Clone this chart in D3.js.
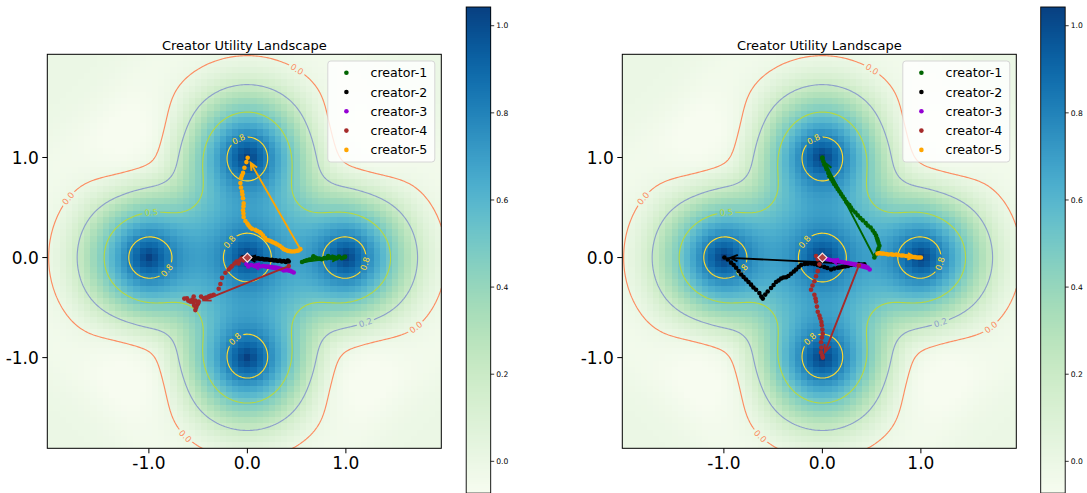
<!DOCTYPE html>
<html><head><meta charset="utf-8">
<script src="https://cdn.jsdelivr.net/npm/d3@7"></script>
<style>
body{margin:0;background:#fff}
svg{display:block}
text{font-family:"DejaVu Sans",sans-serif;fill:#000}
</style>
</head><body>
<svg id="chart" width="1087" height="493"></svg>
<script>
// ---------------- data ----------------
const titleText = "Creator Utility Landscape";
const peakX = [0, 1, -1, 0, 0];
const peakY = [0, 0, 0, 1, -1];
const contourLevels = [0.0, 0.2, 0.5, 0.8];
const contourColors = ["#fc8d62", "#8da0cb", "#b5d844", "#ffd92f"];
const axisTicks = [-1, 0, 1];
const axisTickLabels = ["-1.0", "0.0", "1.0"];
const colorbarTicks = [0.0, 0.2, 0.4, 0.6, 0.8, 1.0];
const colorbarTickLabels = ["0.0", "0.2", "0.4", "0.6", "0.8", "1.0"];
const colorDomain = [-0.073, 1.043];
const creatorNames = ["creator-1", "creator-2", "creator-3", "creator-4", "creator-5"];
const creatorColors = ["#006400", "#000000", "#9400d3", "#a52a2a", "#ffa500"];
const userPoint = [0, 0];
// contour label spots [level, x, y]
const labelSpots = [[0.0,0.52,1.91],[0.0,-1.85,0.61],[0.5,-0.98,0.46],[0.8,-0.1,1.19],[0.8,-0.19,0.16],
  [0.8,-0.85,-0.1],[0.8,1.21,-0.07],[0.8,-0.1,-0.84],[0.2,1.2,-0.64],[0.0,1.74,-0.73],[0.0,-0.65,-1.8]];

// left run trajectories
const leftCreator1 = [[0.555,-0.044],[0.58,-0.035],[0.603,-0.027],[0.63,-0.02],[0.654,-0.017],[0.67,0.012],[0.69,0.0],[0.704,-0.007],[0.73,-0.01],[0.755,-0.017],[0.78,-0.005],[0.806,-0.007],[0.82,0.014],[0.84,0.0],[0.857,0.0],[0.88,-0.005],[0.907,-0.007],[0.93,0.01],[0.958,-0.007],[0.975,0.0],[0.992,0.007]];
const leftCreator2 = [[0.42,-0.04],[0.41,-0.03],[0.39,-0.045],[0.37,-0.035],[0.35,-0.04],[0.33,-0.03],[0.31,-0.035],[0.29,-0.028],[0.27,-0.03],[0.25,-0.022],[0.23,-0.025],[0.21,-0.02],[0.19,-0.018],[0.17,-0.02],[0.15,-0.012],[0.13,-0.015],[0.11,-0.008],[0.09,-0.01],[0.07,-0.005],[0.05,-0.006],[0.03,0.0],[0.01,0.004],[-0.02,0.006],[-0.05,0.0]];
const leftCreator3 = [[0.47,-0.15],[0.45,-0.14],[0.43,-0.13],[0.41,-0.12],[0.39,-0.125],[0.37,-0.13],[0.35,-0.115],[0.33,-0.11],[0.31,-0.105],[0.29,-0.1],[0.27,-0.1],[0.25,-0.095],[0.22,-0.09],[0.19,-0.088],[0.16,-0.085],[0.13,-0.09],[0.1,-0.08],[0.07,-0.085],[0.04,-0.075],[0.01,-0.09],[-0.01,-0.065]];
const leftCreator4 = [[0.42,-0.085],[-0.03,0.0],[-0.06,-0.01],[-0.04,-0.03],[-0.08,-0.03],[-0.11,-0.04],[-0.09,-0.06],[-0.13,-0.06],[-0.156,-0.085],[-0.17,-0.1],[-0.19,-0.119],[-0.223,-0.152],[-0.257,-0.203],[-0.274,-0.264],[-0.291,-0.312],[-0.342,-0.373],[-0.37,-0.38],[-0.393,-0.39],[-0.42,-0.4],[-0.443,-0.406],[-0.47,-0.39],[-0.494,-0.44],[-0.511,-0.474],[-0.528,-0.525],[-0.545,-0.39],[-0.56,-0.42],[-0.579,-0.44],[-0.613,-0.406],[-0.64,-0.41],[-0.6,-0.43],[-0.55,-0.45],[-0.52,-0.5],[-0.54,-0.48],[-0.5,-0.46],[-0.53,-0.43],[-0.5,-0.45]];
const leftCreator5 = [[0.538,0.084],[0.52,0.07],[0.504,0.067],[0.48,0.062],[0.453,0.061],[0.43,0.064],[0.409,0.067],[0.39,0.075],[0.369,0.084],[0.35,0.1],[0.328,0.118],[0.305,0.13],[0.284,0.142],[0.26,0.152],[0.24,0.162],[0.22,0.17],[0.2,0.176],[0.18,0.195],[0.159,0.219],[0.14,0.24],[0.125,0.254],[0.1,0.265],[0.081,0.277],[0.047,0.287],[0.03,0.3],[0.013,0.321],[0.0,0.34],[-0.02,0.365],[-0.038,0.406],[-0.04,0.44],[-0.044,0.473],[-0.04,0.51],[-0.038,0.541],[-0.044,0.592],[-0.05,0.63],[-0.054,0.66],[-0.065,0.7],[-0.071,0.744],[-0.064,0.795],[-0.055,0.82],[-0.044,0.846],[-0.03,0.897],[-0.01,0.954],[0.003,0.998]];

// right run trajectories
const rightCreator1 = [[0.528,0.0],[0.545,0.03],[0.562,0.067],[0.57,0.09],[0.579,0.118],[0.57,0.145],[0.562,0.169],[0.555,0.19],[0.545,0.219],[0.53,0.245],[0.512,0.27],[0.49,0.3],[0.461,0.321],[0.44,0.345],[0.41,0.372],[0.385,0.395],[0.359,0.422],[0.335,0.45],[0.308,0.473],[0.29,0.5],[0.274,0.524],[0.255,0.54],[0.241,0.558],[0.225,0.585],[0.207,0.609],[0.19,0.635],[0.173,0.66],[0.155,0.685],[0.139,0.711],[0.12,0.735],[0.106,0.761],[0.09,0.785],[0.071,0.812],[0.06,0.845],[0.048,0.88],[0.035,0.905],[0.02,0.93],[0.01,0.96],[0.0,0.99],[0.0,1.0]];
const rightCreator2 = [[0.426,-0.068],[0.4,-0.07],[0.37,-0.065],[0.34,-0.075],[0.31,-0.07],[0.291,-0.075],[0.26,-0.085],[0.23,-0.09],[0.2,-0.095],[0.175,-0.1],[0.156,-0.102],[0.12,-0.11],[0.088,-0.119],[0.05,-0.105],[0.02,-0.095],[-0.02,-0.085],[-0.047,-0.075],[-0.08,-0.065],[-0.11,-0.06],[-0.148,-0.061],[-0.18,-0.065],[-0.216,-0.075],[-0.24,-0.095],[-0.267,-0.119],[-0.29,-0.14],[-0.318,-0.162],[-0.345,-0.185],[-0.369,-0.197],[-0.395,-0.2],[-0.419,-0.21],[-0.445,-0.23],[-0.47,-0.244],[-0.495,-0.275],[-0.521,-0.305],[-0.555,-0.339],[-0.58,-0.37],[-0.605,-0.41],[-0.62,-0.39],[-0.64,-0.355],[-0.673,-0.322],[-0.7,-0.3],[-0.724,-0.271],[-0.75,-0.245],[-0.775,-0.22],[-0.8,-0.195],[-0.825,-0.17],[-0.85,-0.135],[-0.876,-0.102],[-0.9,-0.075],[-0.927,-0.051],[-0.96,-0.02],[-0.995,0.0]];
const rightCreator3 = [[0.48,-0.12],[0.46,-0.1],[0.44,-0.09],[0.42,-0.085],[0.4,-0.08],[0.38,-0.075],[0.35,-0.07],[0.32,-0.065],[0.29,-0.06],[0.26,-0.055],[0.23,-0.05],[0.2,-0.045],[0.17,-0.04],[0.14,-0.035],[0.11,-0.03],[0.08,-0.025],[0.055,-0.017],[0.03,-0.01]];
const rightCreator4 = [[0.37,-0.08],[-0.064,0.016],[-0.047,-0.017],[-0.03,-0.068],[-0.047,-0.136],[-0.064,-0.187],[-0.081,-0.237],[-0.1,-0.28],[-0.115,-0.322],[-0.081,-0.372],[-0.07,-0.41],[-0.064,-0.44],[-0.055,-0.49],[-0.047,-0.542],[-0.03,-0.58],[-0.02,-0.609],[-0.01,-0.645],[-0.006,-0.677],[0.0,-0.72],[0.004,-0.761],[-0.005,-0.8],[-0.013,-0.846],[-0.01,-0.9],[-0.013,-0.948],[0.0,-0.98],[0.004,-1.0]];
const rightCreator5 = [[0.56,0.04],[0.58,0.045],[0.6,0.04],[0.62,0.04],[0.65,0.035],[0.67,0.03],[0.7,0.032],[0.72,0.028],[0.75,0.03],[0.77,0.025],[0.8,0.02],[0.82,0.02],[0.85,0.015],[0.87,0.012],[0.88,0.01],[0.9,0.008],[0.92,0.005],[0.94,0.004],[0.96,0.0],[0.98,0.0],[1.0,0.0]];

// landscape kernel parameters (cone-like bump with a shallow negative ring)
const K = {slope: 1.18, radius: 0.894, soft: 0.08, dipDepth: 0.04, dipAt: 1.3, dipWidth: 0.1};

// ---------------- layout ----------------
const svg = d3.select("#chart");
const AX = {y0: 54.3, size: 394};
const CB = {top: 7, w: 24.5};
const panels = [
  {ox: 47.3, cbx: 466.2, traj: [leftCreator1, leftCreator2, leftCreator3, leftCreator4, leftCreator5]},
  {ox: 622.3, cbx: 1040.7, traj: [rightCreator1, rightCreator2, rightCreator3, rightCreator4, rightCreator5]}
];
const GRID = 64, cell = 1/16;
const xDomain = [-2 - cell/2, 2 - cell/2];
const yDomain = [-2 + 3*cell/2, 2 + cell/2];

function kernel(r){
  const s = K.slope * K.soft * Math.log1p(Math.exp((K.radius - r)/K.soft));
  const d = K.dipDepth * Math.exp(-((r - K.dipAt)**2)/K.dipWidth);
  return s - d;
}
function field(x, y){
  let p = 1;
  for (let k = 0; k < peakX.length; k++) p *= 1 - kernel(Math.hypot(x - peakX[k], y - peakY[k]));
  return 1 - p;
}
const color = d3.scaleSequential(d3.interpolateGnBu).domain(colorDomain).clamp(true);

// heat cells
const gx = d3.range(GRID).map(i => -2 + i*cell);
const gy = d3.range(GRID).map(j => 2 - j*cell);
const cells = [];
gy.forEach(y => gx.forEach(x => cells.push({x, y, v: field(x, y)})));

// contour grid
const N = 240;
const cStep = (xDomain[1] - xDomain[0])/(N - 1);
const cvals = new Array(N*N);
for (let r = 0; r < N; r++) for (let c = 0; c < N; c++) cvals[r*N + c] = field(xDomain[0] + c*cStep, yDomain[1] - r*cStep);
const contours = d3.contours().size([N, N]).thresholds(contourLevels)(cvals);

const defs = svg.append("defs");

panels.forEach((P, pi) => {
  const xs = d3.scaleLinear().domain(xDomain).range([P.ox, P.ox + AX.size]);
  const ys = d3.scaleLinear().domain(yDomain).range([AX.y0 + AX.size, AX.y0]);
  const g = svg.append("g");
  const clipId = "clip" + pi;
  defs.append("clipPath").attr("id", clipId).append("rect")
    .attr("x", P.ox).attr("y", AX.y0).attr("width", AX.size).attr("height", AX.size);
  const plot = g.append("g").attr("clip-path", `url(#${clipId})`);

  // heatmap
  plot.append("g").attr("shape-rendering", "crispEdges").selectAll("rect").data(cells).join("rect")
    .attr("x", d => xs(d.x - cell/2)).attr("y", d => ys(d.y + cell/2))
    .attr("width", d => xs(d.x + cell/2) - xs(d.x - cell/2) + 0.4)
    .attr("height", d => ys(d.y - cell/2) - ys(d.y + cell/2) + 0.4)
    .attr("fill", d => color(d.v));

  // contours -> pixel rings
  const cx = u => xs(xDomain[0] + (u - 0.5)*cStep);
  const cy = v => ys(yDomain[1] - (v - 0.5)*cStep);
  const rings = contours.map(c => {
    const out = [];
    c.coordinates.forEach(poly => poly.forEach(ring => out.push(ring.map(p => [cx(p[0]), cy(p[1])]))));
    return out;
  });

  // label placement
  const maskId = "mask" + pi;
  const mask = defs.append("mask").attr("id", maskId).attr("maskUnits", "userSpaceOnUse")
    .attr("x", 0).attr("y", 0).attr("width", 1087).attr("height", 493);
  mask.append("rect").attr("x", 0).attr("y", 0).attr("width", 1087).attr("height", 493).attr("fill", "#fff");
  const labels = [];
  labelSpots.forEach(([lv, lx, ly]) => {
    const li = contourLevels.indexOf(lv);
    const tx = xs(lx), ty = ys(ly);
    let best = null, bd = Infinity;
    rings[li].forEach(ring => ring.forEach((p, i) => {
      const d = (p[0]-tx)**2 + (p[1]-ty)**2;
      if (d < bd) { bd = d; best = {ring, i}; }
    }));
    if (!best) return;
    const R = best.ring, n = R.length, i = best.i;
    const a = R[(i - 3 + n) % n], b = R[(i + 3) % n];
    let ang = Math.atan2(b[1] - a[1], b[0] - a[0]) * 180/Math.PI;
    if (ang > 90) ang -= 180; if (ang < -90) ang += 180;
    labels.push({x: R[i][0], y: R[i][1], ang, text: lv.toFixed(1), col: contourColors[li]});
    mask.append("rect").attr("x", -9).attr("y", -4).attr("width", 18).attr("height", 8).attr("fill", "#000")
      .attr("transform", `translate(${R[i][0]},${R[i][1]}) rotate(${ang})`);
  });

  const cg = plot.append("g").attr("mask", `url(#${maskId})`).attr("fill", "none").attr("stroke-width", 1.15);
  rings.forEach((rs, li) => rs.forEach(ring => {
    cg.append("path").attr("d", d3.line().curve(d3.curveLinearClosed)(ring)).attr("stroke", contourColors[li]);
  }));
  plot.append("g").selectAll("text").data(labels).join("text")
    .attr("transform", d => `translate(${d.x},${d.y}) rotate(${d.ang})`)
    .attr("text-anchor", "middle").attr("dy", "0.35em")
    .style("font-size", "8.5px").style("fill", d => d.col).text(d => d.text);

  // trajectories
  P.traj.forEach((pts, ci) => {
    const col = creatorColors[ci];
    const tg = plot.append("g");
    tg.selectAll("circle").data(pts).join("circle")
      .attr("cx", d => xs(d[0])).attr("cy", d => ys(d[1])).attr("r", 2.3).attr("fill", col);
    const s = pts[0], e = pts[pts.length - 1];
    const x1 = xs(s[0]), y1 = ys(s[1]), x2 = xs(e[0]), y2 = ys(e[1]);
    const L = Math.hypot(x2 - x1, y2 - y1), ux = (x2 - x1)/L, uy = (y2 - y1)/L;
    const sx = x1 + ux*2, sy = y1 + uy*2, ex = x2 - ux*6, ey = y2 - uy*6;
    const hl = 8, ha = 0.42;
    const h1 = [ex - hl*(ux*Math.cos(ha) - uy*Math.sin(ha)), ey - hl*(uy*Math.cos(ha) + ux*Math.sin(ha))];
    const h2 = [ex - hl*(ux*Math.cos(ha) + uy*Math.sin(ha)), ey - hl*(uy*Math.cos(ha) - ux*Math.sin(ha))];
    tg.append("path").attr("d", `M${sx},${sy}L${ex},${ey}M${h1[0]},${h1[1]}L${ex},${ey}L${h2[0]},${h2[1]}`)
      .attr("fill", "none").attr("stroke", col).attr("stroke-width", 1.9);
  });

  // user diamond
  const ux0 = xs(userPoint[0]), uy0 = ys(userPoint[1]);
  plot.append("path").attr("d", `M${ux0},${uy0-4.5}L${ux0+4.5},${uy0}L${ux0},${uy0+4.5}L${ux0-4.5},${uy0}Z`)
    .attr("fill", "#b04040").attr("stroke", "#fbe2e2").attr("stroke-width", 1.2);

  // frame
  g.append("rect").attr("x", P.ox).attr("y", AX.y0).attr("width", AX.size).attr("height", AX.size)
    .attr("fill", "none").attr("stroke", "#000").attr("stroke-width", 1);

  // axes ticks
  const xg = g.append("g");
  axisTicks.forEach((t, i) => {
    xg.append("line").attr("x1", xs(t)).attr("x2", xs(t)).attr("y1", AX.y0 + AX.size).attr("y2", AX.y0 + AX.size + 5).attr("stroke", "#000");
    xg.append("text").attr("x", xs(t)).attr("y", AX.y0 + AX.size + 20.2).attr("text-anchor", "middle")
      .style("font-size", "17px").text(axisTickLabels[i]);
    xg.append("line").attr("x1", P.ox - 5).attr("x2", P.ox).attr("y1", ys(t)).attr("y2", ys(t)).attr("stroke", "#000");
    xg.append("text").attr("x", P.ox - 8.5).attr("y", ys(t)).attr("dy", "0.36em").attr("text-anchor", "end")
      .style("font-size", "17px").text(axisTickLabels[i]);
  });

  // title
  g.append("text").attr("x", P.ox + AX.size/2).attr("y", 49.5).attr("text-anchor", "middle")
    .style("font-size", "13px").text(titleText);

  // legend
  const lw = 107, lh = 101, lx = P.ox + AX.size - 6.5 - lw, ly = 61;
  const lg = g.append("g");
  lg.append("rect").attr("x", lx).attr("y", ly).attr("width", lw).attr("height", lh).attr("rx", 3)
    .attr("fill", "#fff").attr("fill-opacity", 0.8).attr("stroke", "#d6d6d6");
  creatorNames.forEach((nm, i) => {
    const yy = ly + 11.7 + i*19.3;
    lg.append("circle").attr("cx", lx + 18.6).attr("cy", yy).attr("r", 2.3).attr("fill", creatorColors[i]);
    lg.append("text").attr("x", lx + 42.7).attr("y", yy).attr("dy", "0.36em").style("font-size", "12.6px").text(nm);
  });

  // colorbar
  const cs = d3.scaleLinear().domain(colorDomain).range([CB.top + (colorDomain[1]-colorDomain[0])*435.6, CB.top]);
  const steps = d3.range(0, 241).map(k => colorDomain[0] + (colorDomain[1]-colorDomain[0])*k/240);
  const cbg = g.append("g");
  cbg.append("g").attr("shape-rendering", "crispEdges").selectAll("rect").data(steps.slice(0, -1)).join("rect")
    .attr("x", P.cbx).attr("width", CB.w)
    .attr("y", (d, k) => cs(steps[k+1])).attr("height", (d, k) => cs(d) - cs(steps[k+1]) + 0.6)
    .attr("fill", (d, k) => color((d + steps[k+1])/2));
  cbg.append("rect").attr("x", P.cbx).attr("y", cs(colorDomain[1])).attr("width", CB.w)
    .attr("height", cs(colorDomain[0]) - cs(colorDomain[1])).attr("fill", "none").attr("stroke", "#000").attr("stroke-width", 0.9);
  colorbarTicks.forEach((t, i) => {
    cbg.append("line").attr("x1", P.cbx + CB.w).attr("x2", P.cbx + CB.w + 3.5).attr("y1", cs(t)).attr("y2", cs(t)).attr("stroke", "#000").attr("stroke-width", 0.8);
    cbg.append("text").attr("x", P.cbx + CB.w + 5.5).attr("y", cs(t)).attr("dy", "0.36em").style("font-size", "7.6px").text(colorbarTickLabels[i]);
  });
});
</script>
</body></html>
